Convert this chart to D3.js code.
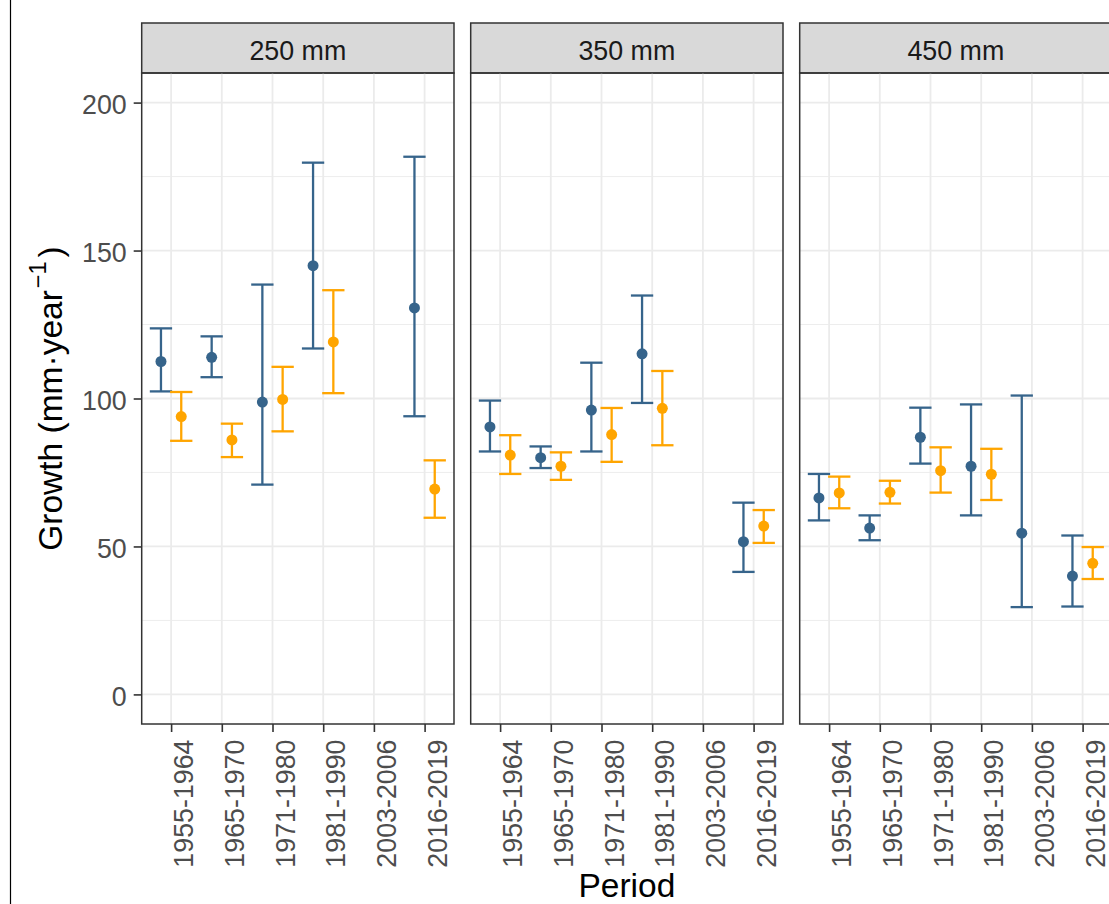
<!DOCTYPE html>
<html>
<head>
<meta charset="utf-8">
<script src="https://cdn.jsdelivr.net/npm/d3@7"></script>
<style>
  body { margin: 0; background: #fff; }
  svg { display: block; font-family: "Liberation Sans", Arial, sans-serif; }
</style>
</head>
<body>
<div class="chart"></div>
<script>
const periods = ['1955-1964', '1965-1970', '1971-1980', '1981-1990', '2003-2006', '2016-2019'];
const facets = ['250 mm', '350 mm', '450 mm'];
const yTicks = [0, 50, 100, 150, 200];
const yMinor = [25, 75, 125, 175];

// one row per facet, one value per period (null = no estimate)
const blueMean = [
  [112.5, 113.9, 98.8, 144.9, null, 130.6],
  [90.4, 80.0, 96.1, 115.1, null, 51.6],
  [66.4, 56.2, 86.9, 77.1, 54.5, 40.0]
];
const blueLow = [
  [102.4, 107.2, 70.9, 116.9, null, 94.0],
  [82.1, 76.5, 82.1, 98.5, null, 41.4],
  [58.8, 52.1, 78.0, 60.5, 29.5, 29.7]
];
const blueHigh = [
  [123.7, 121.0, 138.5, 179.7, null, 181.7],
  [99.3, 83.8, 112.1, 134.8, null, 64.8],
  [74.5, 60.5, 96.9, 98.0, 101.0, 53.7]
];
const orangeMean = [
  [93.9, 86.0, 99.7, 119.1, null, 69.4],
  [80.9, 77.1, 87.8, 96.7, null, 56.9],
  [68.1, 68.3, 75.6, 74.4, null, 44.3]
];
const orangeLow = [
  [85.7, 80.2, 88.9, 101.8, null, 59.7],
  [74.5, 72.5, 78.6, 84.2, null, 51.2],
  [62.9, 64.5, 68.2, 65.7, null, 39.0]
];
const orangeHigh = [
  [102.2, 91.5, 110.7, 136.6, null, 79.1],
  [87.6, 81.8, 96.8, 109.3, null, 62.3],
  [73.6, 72.2, 83.5, 83.0, null, 49.8]
];

const width = 1109, height = 904;
const margin = {top: 73, left: 141.7, bottom: 180};
const stripH = 50;
const panelW = 312.3, gap = 16.7;
const plotH = 724 - margin.top;
const tickFont = 26.8, titleFont = 33.5;

const series = [
  {color: '#36648B', mean: blueMean, low: blueLow, high: blueHigh, dodge: -0.2},
  {color: '#FFA500', mean: orangeMean, low: orangeLow, high: orangeHigh, dodge: 0.2}
];

const svg = d3.select('.chart').append('svg')
    .attr('width', width)
    .attr('height', height);

// stray frame line at the far left of the screenshot
svg.append('line')
    .attr('x1', 10.5).attr('x2', 10.5)
    .attr('y1', 0).attr('y2', height)
    .attr('stroke', '#000').attr('stroke-width', 1.2);

const y = d3.scaleLinear()
    .domain([-10, 210])
    .range([margin.top + plotH, margin.top]);

const x = d3.scalePoint()
    .domain(periods)
    .range([0, panelW])
    .padding(0.58);
const step = x.step();
const capHalf = 0.22 * step;

facets.forEach((facet, fi) => {
  const left = margin.left + fi * (panelW + gap);
  const g = svg.append('g').attr('transform', `translate(${left},0)`);

  // strip
  g.append('rect')
      .attr('x', 0).attr('y', margin.top - stripH)
      .attr('width', panelW).attr('height', stripH)
      .attr('fill', '#D9D9D9')
      .attr('stroke', '#333333').attr('stroke-width', 1.5);
  g.append('text')
      .attr('x', panelW / 2).attr('y', 60)
      .attr('text-anchor', 'middle')
      .attr('font-size', tickFont)
      .attr('fill', '#1A1A1A')
      .text(facet);

  // grid
  const grid = g.append('g');
  grid.selectAll('.minor').data(yMinor).join('line')
      .attr('x1', 0).attr('x2', panelW)
      .attr('y1', d => y(d)).attr('y2', d => y(d))
      .attr('stroke', '#EBEBEB').attr('stroke-width', 0.9);
  grid.selectAll('.major').data(yTicks).join('line')
      .attr('x1', 0).attr('x2', panelW)
      .attr('y1', d => y(d)).attr('y2', d => y(d))
      .attr('stroke', '#EBEBEB').attr('stroke-width', 1.8);
  grid.selectAll('.vx').data(periods).join('line')
      .attr('x1', d => x(d)).attr('x2', d => x(d))
      .attr('y1', margin.top).attr('y2', margin.top + plotH)
      .attr('stroke', '#EBEBEB').attr('stroke-width', 1.8);

  // error bars and points
  series.forEach(s => {
    const rows = periods.map((p, i) => ({
      p, m: s.mean[fi][i], lo: s.low[fi][i], hi: s.high[fi][i]
    })).filter(d => d.m != null);
    const cx = d => x(d.p) + s.dodge * step;
    const eb = g.append('g')
        .attr('stroke', s.color)
        .attr('stroke-width', 2.3)
        .attr('fill', 'none');
    eb.selectAll('.v').data(rows).join('line')
        .attr('x1', cx).attr('x2', cx)
        .attr('y1', d => y(d.lo)).attr('y2', d => y(d.hi));
    eb.selectAll('.top').data(rows).join('line')
        .attr('x1', d => cx(d) - capHalf).attr('x2', d => cx(d) + capHalf)
        .attr('y1', d => y(d.hi)).attr('y2', d => y(d.hi));
    eb.selectAll('.bot').data(rows).join('line')
        .attr('x1', d => cx(d) - capHalf).attr('x2', d => cx(d) + capHalf)
        .attr('y1', d => y(d.lo)).attr('y2', d => y(d.lo));
    g.append('g').selectAll('circle').data(rows).join('circle')
        .attr('cx', cx).attr('cy', d => y(d.m))
        .attr('r', 5.5)
        .attr('fill', s.color);
  });

  // panel border
  g.append('rect')
      .attr('x', 0).attr('y', margin.top)
      .attr('width', panelW).attr('height', plotH)
      .attr('fill', 'none')
      .attr('stroke', '#333333').attr('stroke-width', 1.5);

  // x axis
  const xAxis = g.append('g')
      .attr('transform', `translate(0,${margin.top + plotH})`)
      .call(d3.axisBottom(x).tickSize(8).tickPadding(10));
  xAxis.select('.domain').remove();
  xAxis.selectAll('.tick line').attr('stroke', '#333333').attr('stroke-width', 1.6);
  xAxis.selectAll('.tick text')
      .attr('font-size', tickFont)
      .attr('font-family', '"Liberation Sans", Arial, sans-serif')
      .attr('fill', '#4D4D4D')
      .attr('transform', 'rotate(-90)')
      .attr('text-anchor', 'end')
      .attr('x', -15.5)
      .attr('y', 21.5)
      .attr('dy', 0);

  // y axis only on the first panel
  if (fi === 0) {
    const yAxis = g.append('g')
        .call(d3.axisLeft(y).tickValues(yTicks).tickSize(8).tickPadding(7));
    yAxis.select('.domain').remove();
    yAxis.selectAll('.tick line').attr('stroke', '#333333').attr('stroke-width', 1.6);
    yAxis.selectAll('.tick text')
        .attr('font-size', tickFont)
        .attr('font-family', '"Liberation Sans", Arial, sans-serif')
        .attr('fill', '#4D4D4D')
        .attr('dy', '0.42em');
  }
});

// axis titles
const fullLeft = margin.left, fullRight = margin.left + 3 * panelW + 2 * gap;
svg.append('text')
    .attr('x', (fullLeft + fullRight) / 2)
    .attr('y', 897)
    .attr('text-anchor', 'middle')
    .attr('font-size', titleFont)
    .attr('fill', '#000')
    .text('Period');

const yTitle = svg.append('text')
    .attr('transform', `translate(62,${margin.top + plotH / 2}) rotate(-90)`)
    .attr('text-anchor', 'middle')
    .attr('font-size', titleFont)
    .attr('fill', '#000');
yTitle.append('tspan').text('Growth (mm·year');
yTitle.append('tspan').attr('font-size', titleFont * 0.7).attr('dy', -16).attr('dx', 2).text('−1');
yTitle.append('tspan').attr('dy', 16).attr('dx', 4).text(')');
</script>
</body>
</html>
